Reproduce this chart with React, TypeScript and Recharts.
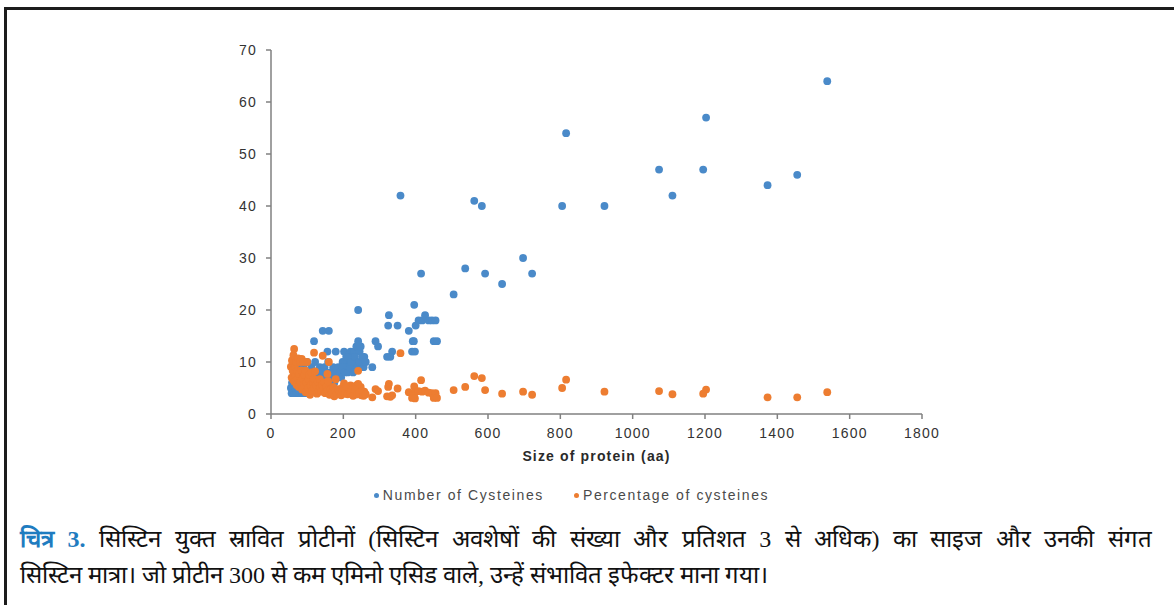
import React from 'react';
import { ScatterChart, Scatter, XAxis, YAxis, Legend } from 'recharts';

// protein size (aa), cysteine count and cysteine percentage, one entry per protein
const proteinSize = [
  358, 816, 562, 583, 805, 922, 697, 537, 592, 722, 415, 639, 505, 396, 241,
  1538, 1203, 1073, 1195, 1110, 1373, 1455,
  326, 324, 350, 381, 400, 408, 418, 426, 436, 445, 455, 392, 395, 450, 459, 390, 398,
  289, 296, 335, 330, 321, 280,
  143, 160, 119, 156, 179, 202, 220, 230, 245, 236, 248, 241, 202, 220, 234, 198, 215,
  228, 210, 225, 236, 183, 258, 250,
  55, 57, 58, 60, 61, 62, 64, 65, 66, 68, 70, 71, 72, 74, 75, 77, 78, 80, 81, 83, 85,
  86, 88, 90, 91, 93, 95, 96, 98, 100, 102, 104, 106, 108, 110, 112, 114, 116, 118,
  120, 122, 125, 127, 130, 132, 135, 137, 140, 142, 145, 148, 150, 153, 156, 158, 162,
  165, 168, 172, 175, 178, 182, 186, 190, 194, 198, 204, 208, 212, 218, 222, 227, 232,
  238, 244, 252, 256, 262,
];

const cysteineCount = [
  42, 54, 41, 40, 40, 40, 30, 28, 27, 27, 27, 25, 23, 21, 20,
  64, 57, 47, 47, 42, 44, 46,
  19, 17, 17, 16, 17, 18, 18, 19, 18, 18, 18, 14, 14, 14, 14, 12, 12,
  14, 13, 12, 11, 11, 9,
  16, 16, 14, 12, 12, 12, 12, 12, 12, 13, 13, 14, 10, 10, 10, 10, 11,
  11, 9, 9, 9, 8, 11, 9,
  5, 4, 6, 5, 4, 7, 8, 4, 6, 5, 7, 4, 6, 5, 8, 4, 6, 8, 5, 7, 9,
  4, 6, 9, 5, 7, 8, 4, 6, 10, 5, 7, 8, 4, 6, 9, 5, 7, 8,
  6, 10, 7, 5, 8, 6, 9, 7, 6, 8, 7, 9, 6, 8, 7, 10, 6,
  8, 7, 9, 6, 8, 7, 9, 8, 7, 9, 8, 11, 8, 9, 10, 8, 11,
  9, 10, 11, 9, 10,
];

const cysteinePercent = [
  11.7, 6.6, 7.3, 6.9, 5.0, 4.3, 4.3, 5.2, 4.6, 3.7, 6.5, 3.9, 4.6, 5.3, 8.3,
  4.2, 4.7, 4.4, 3.9, 3.8, 3.2, 3.2,
  5.8, 5.2, 4.9, 4.2, 4.3, 4.4, 4.3, 4.5, 4.1, 4.0, 4.0, 3.6, 3.5, 3.1, 3.1, 3.1, 3.0,
  4.8, 4.4, 3.6, 3.3, 3.4, 3.2,
  11.2, 10.0, 11.8, 7.7, 6.7, 5.9, 5.5, 5.2, 4.9, 5.5, 5.2, 5.8, 5.0, 4.5, 4.3, 5.1, 5.1,
  4.8, 4.3, 4.0, 3.8, 4.4, 4.3, 3.6,
  9.1, 7.0, 10.3, 8.3, 6.6, 11.3, 12.5, 6.2, 9.1, 7.4, 10.0, 5.6, 8.3, 6.8, 10.7, 5.2, 7.7, 10.0, 6.2, 8.4, 10.6,
  4.7, 6.8, 10.0, 5.5, 7.5, 8.4, 4.2, 6.1, 10.0, 4.9, 6.7, 7.5, 3.7, 5.5, 8.0, 4.4, 6.0, 6.8,
  5.0, 8.2, 5.6, 3.9, 6.2, 4.5, 6.7, 5.1, 4.3, 5.6, 4.8, 6.1, 4.0, 5.2, 4.5, 6.3, 3.7,
  4.8, 4.2, 5.2, 3.4, 4.5, 3.8, 4.8, 4.2, 3.6, 4.5, 3.9, 5.3, 3.8, 4.1, 4.5, 3.5, 4.7,
  3.8, 4.1, 4.4, 3.5, 3.8,
];

const xTicks = [0, 200, 400, 600, 800, 1000, 1200, 1400, 1600, 1800];
const yTicks = [0, 10, 20, 30, 40, 50, 60, 70];

const seriesNames = ['Number of Cysteines', 'Percentage of cysteines'];
const seriesColors = ['#4a8ac9', '#ed7d31'];

const countData = proteinSize.map((size, i) => ({ size, value: cysteineCount[i] }));
const percentData = proteinSize.map((size, i) => ({ size, value: cysteinePercent[i] }));

const chartFont = '"Liberation Sans", Arial, sans-serif';
const tickStyle = { fontSize: 14, fill: '#333', fontFamily: chartFont, letterSpacing: 1.2 };

const makeDot = (color: string) => (props: any) => (
  <circle cx={props.cx} cy={props.cy} r={3.9} fill={color} />
);

const renderLegend = () => (
  <div
    style={{
      height: 20,
      display: 'flex',
      justifyContent: 'center',
      alignItems: 'center',
      fontFamily: chartFont,
      fontSize: 14,
      letterSpacing: 1.6,
      color: '#4a4a4a',
    }}
  >
    {seriesNames.map((name, i) => (
      <span key={name} style={{ display: 'flex', alignItems: 'center', marginRight: i === 0 ? 30 : 0 }}>
        <span
          style={{
            width: 5,
            height: 5,
            borderRadius: '50%',
            background: seriesColors[i],
            marginRight: 4,
            display: 'inline-block',
          }}
        />
        {name}
      </span>
    ))}
  </div>
);

export default function App() {
  return (
    <div style={{ position: 'absolute', left: 0, top: 0, width: 1174, height: 605, background: '#fff', overflow: 'hidden' }}>
      {/* frame, only top and left edges are visible in the crop */}
      <div
        style={{
          position: 'absolute',
          left: 4,
          top: 7,
          width: 1180,
          height: 610,
          borderTop: '3px solid #1c1c1c',
          borderLeft: '3px solid #1c1c1c',
        }}
      />

      <div style={{ position: 'absolute', left: 0, top: 0 }}>
        <ScatterChart width={1174} height={510} margin={{ top: 50, right: 252, bottom: 26, left: 221 }}>
          <XAxis
            type="number"
            dataKey="size"
            domain={[0, 1800]}
            ticks={xTicks}
            height={50}
            tickSize={5}
            tickMargin={9}
            tick={tickStyle}
            axisLine={{ stroke: '#808080', strokeWidth: 1.5 }}
            tickLine={{ stroke: '#808080', strokeWidth: 1.5 }}
            label={{
              value: 'Size of protein (aa)',
              position: 'insideBottom',
              offset: 3,
              style: { fontSize: 14, fontWeight: 'bold', fill: '#2a2a2a', fontFamily: chartFont, letterSpacing: 1.15 },
            }}
          />
          <YAxis
            type="number"
            dataKey="value"
            domain={[0, 70]}
            ticks={yTicks}
            width={50}
            tickSize={5}
            tickMargin={9}
            tick={tickStyle}
            axisLine={{ stroke: '#808080', strokeWidth: 1.5 }}
            tickLine={{ stroke: '#808080', strokeWidth: 1.5 }}
          />
          <Legend verticalAlign="bottom" height={20} wrapperStyle={{ bottom: 5 }} content={renderLegend} />
          <Scatter
            name={seriesNames[0]}
            data={countData}
            fill={seriesColors[0]}
            shape={makeDot(seriesColors[0])}
            isAnimationActive={false}
          />
          <Scatter
            name={seriesNames[1]}
            data={percentData}
            fill={seriesColors[1]}
            shape={makeDot(seriesColors[1])}
            isAnimationActive={false}
          />
        </ScatterChart>
      </div>

      {/* figure caption */}
      <div
        style={{
          position: 'absolute',
          left: 20,
          top: 521,
          width: 1132,
          fontFamily: '"Liberation Serif", "Times New Roman", serif',
          fontSize: 24,
          lineHeight: '36px',
          color: '#111',
        }}
      >
        <div style={{ textAlign: 'justify', textAlignLast: 'justify' }}>
          <span style={{ color: '#1f7cc0', fontWeight: 'bold' }}>चित्र 3.</span>
          {'  '}सिस्टिन युक्त स्रावित प्रोटीनों (सिस्टिन अवशेषों की संख्या और प्रतिशत 3 से अधिक) का साइज और उनकी संगत
        </div>
        <div>सिस्टिन मात्रा। जो प्रोटीन 300 से कम एमिनो एसिड वाले, उन्हें संभावित इफेक्टर माना गया।</div>
      </div>
    </div>
  );
}
